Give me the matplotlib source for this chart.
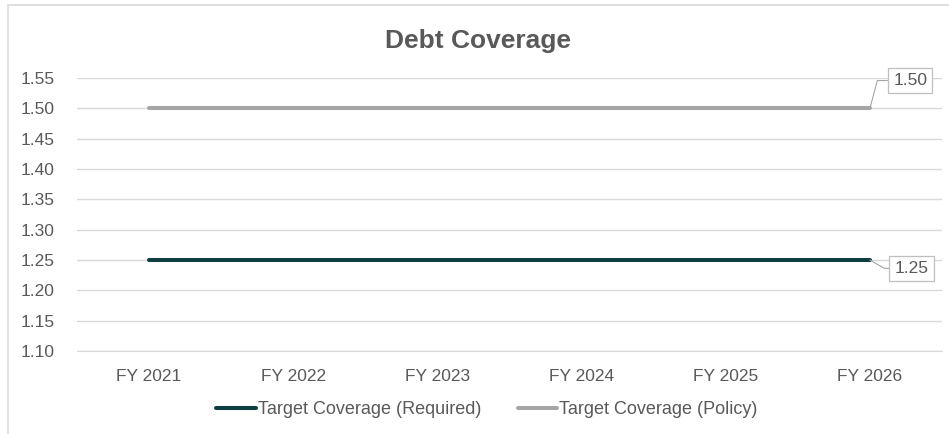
import matplotlib.pyplot as plt
from matplotlib.patches import Rectangle

plt.rcParams['font.family'] = ['Liberation Sans', 'DejaVu Sans']

# ======================
# data
# ======================
years = ["FY 2021", "FY 2022", "FY 2023", "FY 2024", "FY 2025", "FY 2026"]
required = [1.25, 1.25, 1.25, 1.25, 1.25, 1.25]
policy = [1.50, 1.50, 1.50, 1.50, 1.50, 1.50]
y_ticks = [1.10, 1.15, 1.20, 1.25, 1.30, 1.35, 1.40, 1.45, 1.50, 1.55]

txt = "#595959"
grid = "#D9D9D9"

fig = plt.figure(figsize=(9.49, 4.34), dpi=100)
ax = fig.add_axes([77 / 949, 1 - 351 / 434, (942 - 77) / 949, (351 - 78) / 434])

# chart border (clipped on right / bottom like the source)
fig.patches.append(Rectangle((8 / 949, -0.1), 1.2, (434 - 5) / 434 + 0.1,
                             transform=fig.transFigure, fill=False,
                             edgecolor=grid, lw=1.2))

x = list(range(len(years)))
l1, = ax.plot(x, required, color="#0E3E3E", lw=2.9, solid_capstyle="round",
              label="Target Coverage (Required)")
l2, = ax.plot(x, policy, color="#A5A5A5", lw=2.9, solid_capstyle="round",
              label="Target Coverage (Policy)")

# data labels on the last point
box = dict(boxstyle="square,pad=0.3", fc="white", ec="#BFBFBF", lw=0.9)
ax.annotate(f"{policy[-1]:.2f}", xy=(x[-1], policy[-1]), xytext=(29, 20),
            textcoords="offset points", ha="center", va="center",
            fontsize=12.5, color=txt, bbox=box,
            arrowprops=dict(arrowstyle="-", color="#A5A5A5", lw=0.8,
                            shrinkA=0, shrinkB=0,
                            connectionstyle="angle,angleA=0,angleB=75,rad=0"))
ax.annotate(f"{required[-1]:.2f}", xy=(x[-1], required[-1]), xytext=(30, -6),
            textcoords="offset points", ha="center", va="center",
            fontsize=12.5, color=txt, bbox=box,
            arrowprops=dict(arrowstyle="-", color="#A5A5A5", lw=0.8,
                            shrinkA=0, shrinkB=0,
                            connectionstyle="angle,angleA=0,angleB=-30,rad=0"))

ax.set_xlim(-0.5, 5.5)
ax.set_ylim(1.10, 1.55)
ax.set_yticks(y_ticks)
ax.set_yticklabels([f"{v:.2f}" for v in y_ticks])
ax.set_xticks(x)
ax.set_xticklabels(years)
ax.tick_params(length=0, labelsize=12.5, colors=txt, pad=13)
ax.tick_params(axis="y", pad=16)
ax.grid(axis="y", color=grid, lw=1)
ax.set_axisbelow(True)
for s in ["top", "right", "left"]:
    ax.spines[s].set_visible(False)
ax.spines["bottom"].set_color(grid)

fig.text(478 / 949, 1 - 41 / 434, "Debt Coverage", ha="center", va="center",
         fontsize=19, fontweight="bold", color=txt)

fig.legend(handles=[l1, l2], loc="center", ncol=2,
           bbox_to_anchor=(487 / 949, 1 - 410 / 434), frameon=False,
           fontsize=13, labelcolor=txt, handlelength=2.2,
           handletextpad=0.12, columnspacing=2.0)

plt.savefig("out.png", dpi=100)
